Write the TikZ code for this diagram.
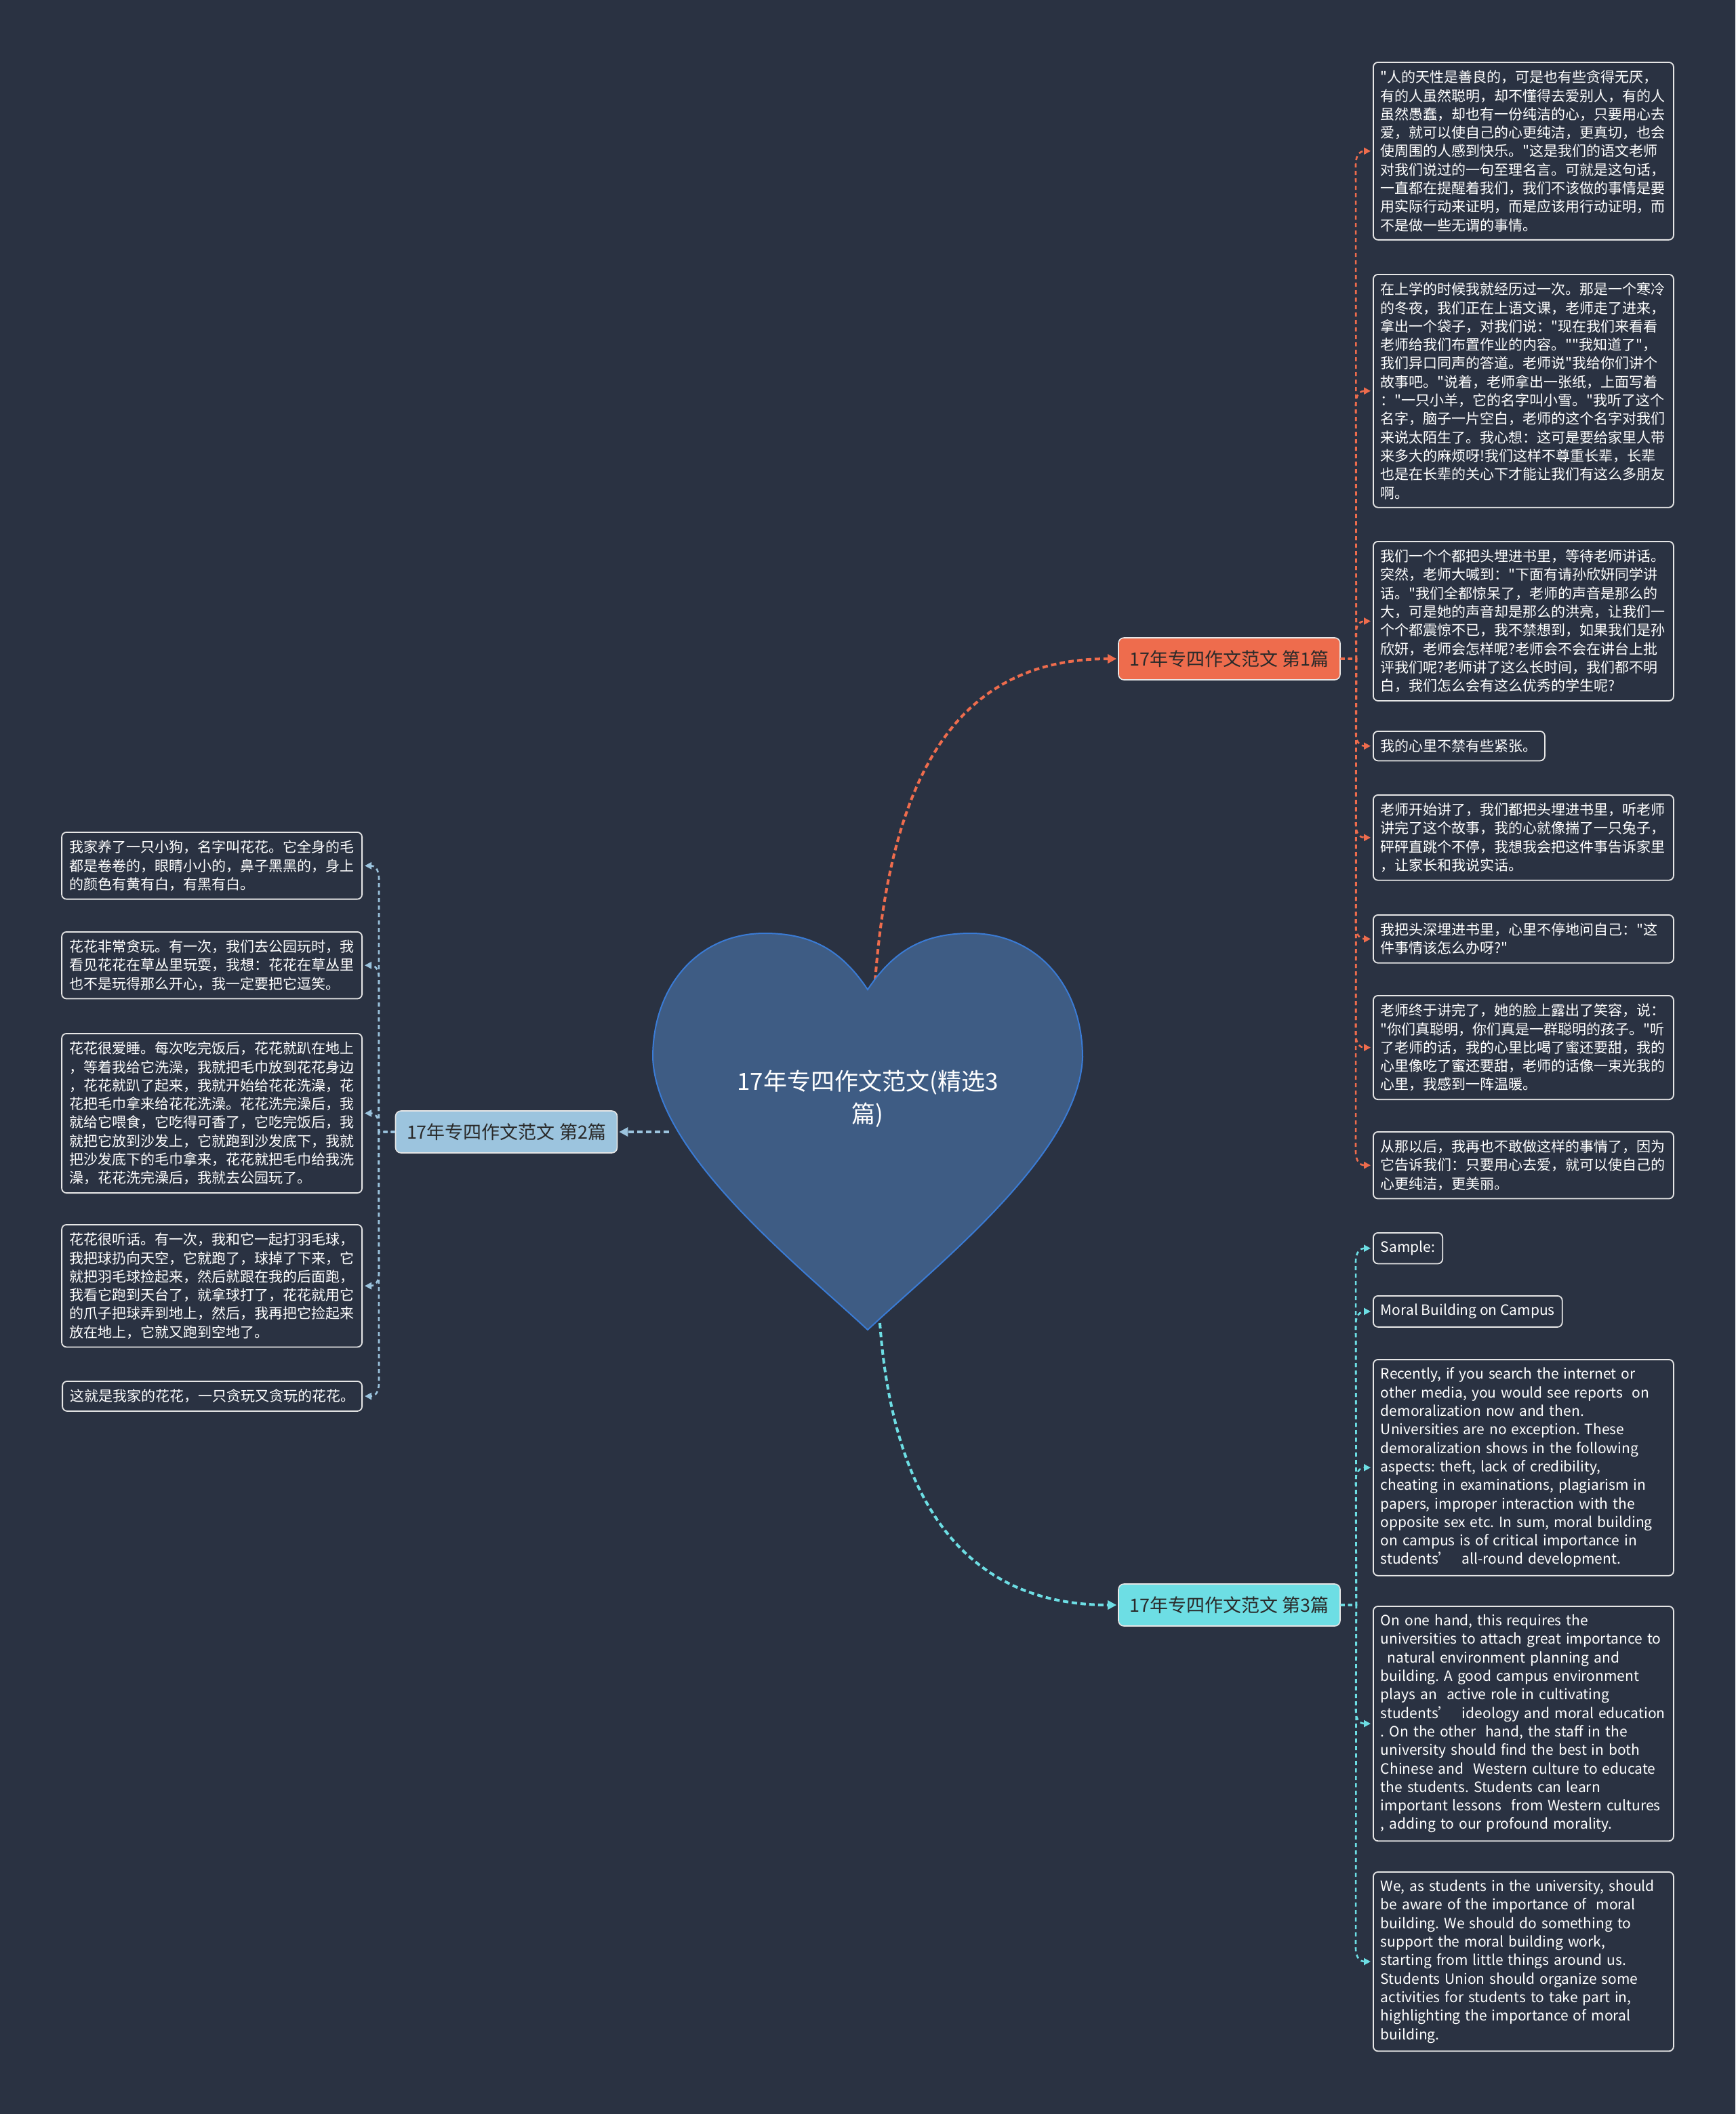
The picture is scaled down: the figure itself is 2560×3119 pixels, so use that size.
\documentclass[tikz,border=0pt]{standalone}
\usepackage{fontspec}
\newfontfamily\cjk{Noto Sans CJK SC}
\usetikzlibrary{arrows.meta,calc}
\definecolor{bg}{HTML}{2A3242}
\definecolor{heartfill}{HTML}{3E5C84}
\definecolor{heartline}{HTML}{3A7BD5}
\definecolor{orangec}{HTML}{EE6C4D}
\definecolor{lblue}{HTML}{9CC4DE}
\definecolor{cyanc}{HTML}{6DDEE4}
\definecolor{leafline}{HTML}{E6E6E6}
\definecolor{btext}{HTML}{2A2A2A}
\newcommand\leaffont{\cjk\fontsize{21}{27.3}\selectfont\frenchspacing}
\tikzset{
  leafbase/.style={draw=leafline, line width=1.8pt, rounded corners=7pt, fill=bg, text=white,
    inner xsep=11pt, inner ysep=12pt, anchor=north west, font=\leaffont},
  leaf/.style={leafbase, text width=421pt, align=left},
  leafe/.style={leafbase, anchor=north east},
  leafwe/.style={leaf, anchor=north east},
  branch/.style={rounded corners=8pt, draw=leafline, line width=1.6pt, text=btext,
    minimum width=327pt, minimum height=62pt, inner sep=0pt, font=\cjk\fontsize{27}{32}\selectfont},
  main/.style={line width=4pt, dash pattern=on 8pt off 5pt, -{Triangle[length=13pt,width=13pt]}, shorten >=2pt},
  sub/.style={line width=2.6pt, dash pattern=on 6pt off 5pt, -{Triangle[length=10pt,width=10pt]}, shorten >=3pt},
}
\begin{document}
\begin{tikzpicture}[x=1pt,y=-1pt]
\path[use as bounding box, fill=bg] (0,0) rectangle (2560,3119);

% branches
\node[branch, fill=orangec] (b1) at (1813.5,972) {17年专四作文范文 第1篇};
\node[branch, fill=lblue] (b2) at (747,1670) {17年专四作文范文 第2篇};
\node[branch, fill=cyanc] (b3) at (1813.5,2368) {17年专四作文范文 第3篇};

% right leaves (branch 1)
\node[leaf] (r1) at (2025,91) {"人的天性是善良的，可是也有些贪得无厌，\\有的人虽然聪明，却不懂得去爱别人，有的人\\虽然愚蠢，却也有一份纯洁的心，只要用心去\\爱，就可以使自己的心更纯洁，更真切，也会\\使周围的人感到快乐。"这是我们的语文老师\\对我们说过的一句至理名言。可就是这句话，\\一直都在提醒着我们，我们不该做的事情是要\\用实际行动来证明，而是应该用行动证明，而\\不是做一些无谓的事情。};
\node[leaf] (r2) at (2025,404) {在上学的时候我就经历过一次。那是一个寒冷\\的冬夜，我们正在上语文课，老师走了进来，\\拿出一个袋子，对我们说："现在我们来看看\\老师给我们布置作业的内容。""我知道了"，\\我们异口同声的答道。老师说"我给你们讲个\\故事吧。"说着，老师拿出一张纸，上面写着\\："一只小羊，它的名字叫小雪。"我听了这个\\名字，脑子一片空白，老师的这个名字对我们\\来说太陌生了。我心想：这可是要给家里人带\\来多大的麻烦呀!我们这样不尊重长辈，长辈\\也是在长辈的关心下才能让我们有这么多朋友\\啊。};
\node[leaf] (r3) at (2025,798) {我们一个个都把头埋进书里，等待老师讲话。\\突然，老师大喊到："下面有请孙欣妍同学讲\\话。"我们全都惊呆了，老师的声音是那么的\\大，可是她的声音却是那么的洪亮，让我们一\\个个都震惊不已，我不禁想到，如果我们是孙\\欣妍，老师会怎样呢?老师会不会在讲台上批\\评我们呢?老师讲了这么长时间，我们都不明\\白，我们怎么会有这么优秀的学生呢?};
\node[leafbase] (r4) at (2025,1078) {我的心里不禁有些紧张。};
\node[leaf] (r5) at (2025,1172) {老师开始讲了，我们都把头埋进书里，听老师\\讲完了这个故事，我的心就像揣了一只兔子，\\砰砰直跳个不停，我想我会把这件事告诉家里\\，让家长和我说实话。};
\node[leaf] (r6) at (2025,1349) {我把头深埋进书里，心里不停地问自己："这\\件事情该怎么办呀?"};
\node[leaf] (r7) at (2025,1468) {老师终于讲完了，她的脸上露出了笑容，说：\\"你们真聪明，你们真是一群聪明的孩子。"听\\了老师的话，我的心里比喝了蜜还要甜，我的\\心里像吃了蜜还要甜，老师的话像一束光我的\\心里，我感到一阵温暖。};
\node[leaf] (r8) at (2025,1669) {从那以后，我再也不敢做这样的事情了，因为\\它告诉我们：只要用心去爱，就可以使自己的\\心更纯洁，更美丽。};

% left leaves (branch 2)
\node[leafwe] (l1) at (535,1227) {我家养了一只小狗，名字叫花花。它全身的毛\\都是卷卷的，眼睛小小的，鼻子黑黑的，身上\\的颜色有黄有白，有黑有白。};
\node[leafwe] (l2) at (535,1374) {花花非常贪玩。有一次，我们去公园玩时，我\\看见花花在草丛里玩耍，我想：花花在草丛里\\也不是玩得那么开心，我一定要把它逗笑。};
\node[leafwe] (l3) at (535,1524) {花花很爱睡。每次吃完饭后，花花就趴在地上\\，等着我给它洗澡，我就把毛巾放到花花身边\\，花花就趴了起来，我就开始给花花洗澡，花\\花把毛巾拿来给花花洗澡。花花洗完澡后，我\\就给它喂食，它吃得可香了，它吃完饭后，我\\就把它放到沙发上，它就跑到沙发底下，我就\\把沙发底下的毛巾拿来，花花就把毛巾给我洗\\澡，花花洗完澡后，我就去公园玩了。};
\node[leafwe] (l4) at (535,1806) {花花很听话。有一次，我和它一起打羽毛球，\\我把球扔向天空，它就跑了，球掉了下来，它\\就把羽毛球捡起来，然后就跟在我的后面跑，\\我看它跑到天台了，就拿球打了，花花就用它\\的爪子把球弄到地上，然后，我再把它捡起来\\放在地上，它就又跑到空地了。};
\node[leafe] (l5) at (535,2037) {这就是我家的花花，一只贪玩又贪玩的花花。};

% branch 3 leaves
\node[leafbase] (e1) at (2025,1818) {Sample:};
\node[leafbase] (e2) at (2025,1911) {Moral Building on Campus};
\node[leaf] (e3) at (2025,2005) {Recently, if you search the internet or\\other media, you would see reports\ \ on\\demoralization now and then.\\Universities are no exception. These\\demoralization shows in the following\\aspects: theft, lack of credibility,\\cheating in examinations, plagiarism in\\papers, improper interaction with the\\opposite sex etc. In sum, moral building\\on campus is of critical importance in\\students’\ \ all-round development.};
\node[leaf] (e4) at (2025,2369) {On one hand, this requires the\\\mbox{universities to attach great importance to}\\\hspace*{10pt}natural environment planning and\\building. A good campus environment\\plays an\ \ active role in cultivating\\\mbox{students’\ \ ideology and moral education}\\. On the other\ \ hand, the staff in the\\university should find the best in both\\Chinese and\ \ Western culture to educate\\the students. Students can learn\\\mbox{important lessons\ \ from Western cultures}\\, adding to our profound morality.};
\node[leaf] (e5) at (2025,2761) {We, as students in the university, should\\be aware of the importance of\ \ moral\\building. We should do something to\\support the moral building work,\\starting from little things around us.\\Students Union should organize some\\activities for students to take part in,\\highlighting the importance of moral\\building.};

% sub connectors branch 1 (leaves above: +20, below: -20)
\foreach \n/\s in {r1/20,r2/20,r3/20,r4/-20,r5/-20,r6/-20,r7/-20,r8/-20}{
  \draw[sub, orangec] (b1.east) -- ++(23,0) -- ($(\n.west)+(-25,\s)$) .. controls ($(\n.west)+(-25,\s/4)$) and ($(\n.west)+(-18,0)$) .. (\n.west);
}
% branch 3
\foreach \n/\s in {e1/20,e2/20,e3/20,e4/-20,e5/-20}{
  \draw[sub, cyanc] (b3.east) -- ++(23,0) -- ($(\n.west)+(-25,\s)$) .. controls ($(\n.west)+(-25,\s/4)$) and ($(\n.west)+(-18,0)$) .. (\n.west);
}
% branch 2
\foreach \n/\s in {l1/20,l2/20,l3/20,l4/-20,l5/-20}{
  \draw[sub, lblue] (b2.west) -- ++(-24,0) -- ($(\n.east)+(24,\s)$) .. controls ($(\n.east)+(24,\s/4)$) and ($(\n.east)+(18,0)$) .. (\n.east);
}

% main connectors
\coordinate (hT) at (1291,1447);
\coordinate (hB) at (1298,1952);
\coordinate (hL) at (987,1670);
\draw[main, orangec] (hT) .. controls (1315,1130) and (1420,972) .. (b1.west);
\draw[main, cyanc] (hB) .. controls (1320,2250) and (1450,2368) .. (b3.west);
\draw[main, lblue] (hL) -- (b2.east);

% heart
\draw[fill=heartfill, draw=heartline, line width=2pt]
  (1280,1460) .. controls (1320,1400) and (1365,1377) .. (1432,1377)
  .. controls (1530,1377) and (1597,1455) .. (1597,1560)
  .. controls (1592,1700) and (1390,1860) .. (1280,1962)
  .. controls (1170,1860) and (968,1700) .. (963,1560)
  .. controls (963,1455) and (1030,1377) .. (1128,1377)
  .. controls (1195,1377) and (1240,1400) .. (1280,1460) -- cycle;
\node[text=white, align=center, font=\cjk\fontsize{35}{48}\selectfont] (root) at (1280,1621) {17年专四作文范文(精选3\\篇)};
\end{tikzpicture}
\end{document}
